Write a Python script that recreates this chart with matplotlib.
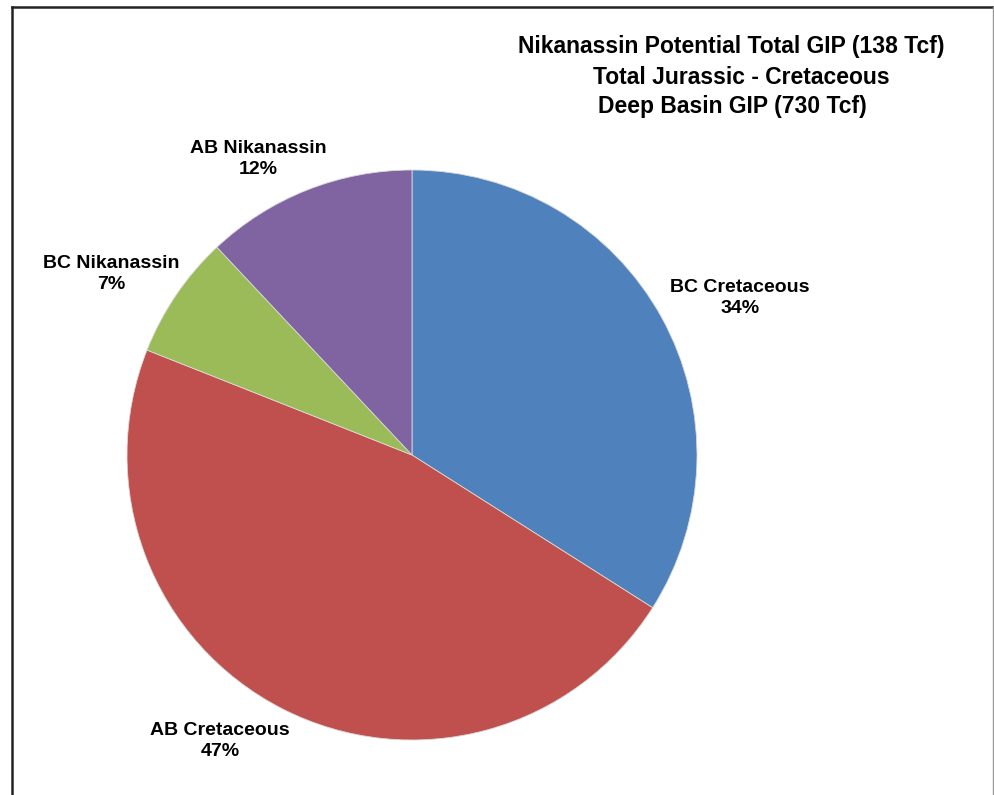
import matplotlib.pyplot as plt
from matplotlib.lines import Line2D

plt.rcParams['font.family'] = ['Liberation Sans', 'DejaVu Sans']

# Slice data (clockwise from 12 o'clock)
names = ["BC Cretaceous", "AB Cretaceous", "BC Nikanassin", "AB Nikanassin"]
shares = [34, 47, 7, 12]
colors = ["#4F81BD", "#C0504D", "#9BBB59", "#8064A2"]

title_lines = ["Nikanassin Potential Total GIP (138 Tcf)",
               "Total Jurassic - Cretaceous",
               "Deep Basin GIP (730 Tcf)"]

W, H = 995, 795
fig = plt.figure(figsize=(W / 100, H / 100), dpi=100)
ax = fig.add_axes([0, 0, 1, 1])

# pie placed in pixel space (y measured from bottom)
cx, cy, r = 412, H - 455, 285
ax.pie(shares, colors=colors, startangle=90, counterclock=False,
       center=(cx, cy), radius=r, frame=True,
       wedgeprops=dict(edgecolor='#d9d9d9', linewidth=0.6))
ax.set_xlim(0, W)
ax.set_ylim(0, H)
ax.set_aspect('equal')
ax.axis('off')

# label positions (pixel coords of label centre)
label_pos = [(740, 298), (220, 741), (111, 274), (258, 159)]
for name, val, (lx, ly) in zip(names, shares, label_pos):
    ax.text(lx, H - ly, f"{name}\n{val}%", ha='center', va='center',
            fontsize=14, fontweight='bold', linespacing=1.35)

title_x = [731, 741, 732]
for i, line in enumerate(title_lines):
    ax.text(title_x[i], H - (47 + 30 * i), line, ha='center', va='center',
            fontsize=16.5, fontweight='bold')

# chart frame (bottom edge is cut off in the original)
fig.add_artist(Line2D([12 / W, 12 / W], [0, 1 - 7 / H], transform=fig.transFigure,
                      color='#222222', linewidth=1.8))
fig.add_artist(Line2D([12 / W, 993 / W], [1 - 7 / H, 1 - 7 / H], transform=fig.transFigure,
                      color='#222222', linewidth=1.8))
fig.add_artist(Line2D([993 / W, 993 / W], [0, 1 - 7 / H], transform=fig.transFigure,
                      color='#999999', linewidth=1.0))

fig.savefig("out.png", dpi=100)
